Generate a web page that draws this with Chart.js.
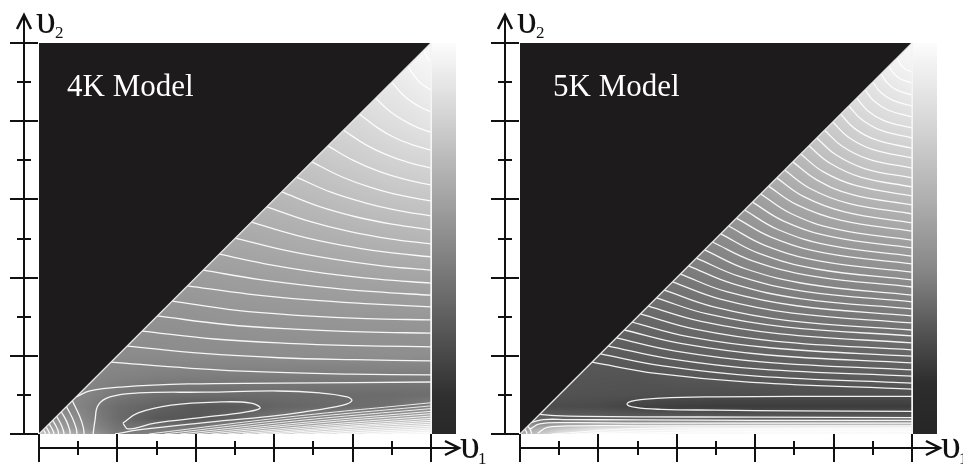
<!DOCTYPE html>
<html><head><meta charset="utf-8">
<script src="https://cdn.jsdelivr.net/npm/chart.js@4.4.1/dist/chart.umd.min.js"></script>
<style>
html,body{margin:0;padding:0;background:#fff;}
#wrap{position:relative;width:964px;height:464px;overflow:hidden;background:#fff;}
.pn{position:absolute;top:0;height:464px;}
</style></head><body>
<div id="wrap">
<div class="pn" style="left:0;width:492px"><canvas id="c1" width="492" height="464"></canvas></div>
<div class="pn" style="left:481px;width:482px"><canvas id="c2" width="482" height="464"></canvas></div>
</div>
<script>
// ---------- axes / ticks ----------
const majorTicks = [0, 2, 4, 6, 8, 10];
const minorTicks = [1, 3, 5, 7, 9];
// ---------- grey field nodes (value 0..255) ----------
const xNodes = [0, 1, 2, 3, 4, 5, 6, 7, 8, 9, 10];
const yNodes = [0, 0.15, 0.4, 0.7, 1, 1.5, 2, 3, 4, 5, 6, 7, 8, 9, 10];
const grid4K = [
  [200,170,122,130,158,175,205,225,235,245,250],
  [165,150,115,118,122,151,162,180,199,211,226],
  [150,140,108, 88, 86, 98,118,132,148,164,178],
  [135,132,108, 98, 88, 90,100,104,108,112,130],
  [138,135,120,110,108,108,108,108,108,108,110],
  [138,135,131,128,127,126,126,125,125,125,125],
  [139,139,139,139,140,140,141,141,141,142,142],
  [146,146,146,146,147,149,150,150,151,151,152],
  [156,156,156,156,156,158,159,161,163,164,165],
  [168,168,168,168,168,168,171,174,177,180,182],
  [182,182,182,182,182,182,182,186,191,195,198],
  [198,198,198,198,198,198,198,198,204,210,214],
  [215,215,215,215,215,215,215,215,215,222,229],
  [232,232,232,232,232,232,232,232,232,232,241],
  [250,250,250,250,250,250,250,250,250,250,250]
];
const grid5K = [
  [170,230,250,250,250,250,250,250,250,250,250],
  [150,195,225,232,238,242,245,245,245,245,245],
  [100, 95, 95, 95, 95, 95, 95, 95, 95, 95, 95],
  [ 78, 76, 74, 66, 62, 60, 60, 60, 60, 60, 60],
  [ 82, 82, 81, 80, 79, 78, 78, 78, 78, 78, 78],
  [ 86, 86, 85, 84, 88, 89, 91, 92, 92, 93, 93],
  [ 90, 90, 90, 92, 95, 97, 98, 99,100,101,102],
  [104,104,104,104,107,111,114,117,118,120,121],
  [120,120,120,120,120,125,130,134,137,139,142],
  [138,138,138,138,138,138,145,151,156,159,162],
  [158,158,158,158,158,158,158,168,175,180,184],
  [182,182,182,182,182,182,182,182,192,200,203],
  [205,205,205,205,205,205,205,205,205,216,222],
  [228,228,228,228,228,228,228,228,228,228,238],
  [250,250,250,250,250,250,250,250,250,250,250]
];
// ---------- colour bars (level on v2 scale -> grey) ----------
const cbLevels4K = [0, 1, 2, 3, 5, 7, 8.5, 10];
const cbGrey4K   = [40, 48, 72, 95, 140, 185, 220, 252];
const cbLevels5K = [0, 1.3, 2.5, 4.2, 6, 8, 10];
const cbGrey5K   = [38, 45, 80, 135, 175, 215, 252];

// ---------- 4K contour lines ----------
const upper4K = [
  [[9.82,9.82],[9.91,9.62],[10,9.51]],
  [[9.41,9.41],[9.56,9.18],[9.70,9.01],[9.85,8.89],[10,8.80]],
  [[9.00,9.00],[9.25,8.71],[9.50,8.50],[9.75,8.35],[10,8.24]],
  [[8.59,8.59],[8.94,8.26],[9.30,8.02],[9.65,7.84],[10,7.72]],
  [[8.18,8.18],[8.64,7.83],[9.09,7.57],[9.55,7.39],[10,7.26]],
  [[7.77,7.77],[8.33,7.40],[8.89,7.13],[9.44,6.94],[10,6.80]],
  [[7.37,7.37],[8.03,6.99],[8.69,6.71],[9.34,6.51],[10,6.37]],
  [[6.96,6.96],[7.72,6.58],[8.48,6.30],[9.24,6.10],[10,5.96]],
  [[6.57,6.57],[7.43,6.19],[8.29,5.92],[9.14,5.72],[10,5.58]],
  [[6.19,6.19],[7.14,5.82],[8.10,5.55],[9.05,5.36],[10,5.22]],
  [[5.81,5.81],[6.86,5.45],[7.91,5.18],[8.95,4.99],[10,4.86]],
  [[5.42,5.42],[6.57,5.08],[7.71,4.83],[8.86,4.65],[10,4.53]],
  [[5.01,5.01],[6.26,4.70],[7.51,4.47],[8.75,4.30],[10,4.19]],
  [[4.60,4.60],[5.95,4.32],[7.30,4.11],[8.65,3.96],[10,3.86]],
  [[4.19,4.19],[5.64,3.95],[7.10,3.77],[8.55,3.64],[10,3.55]],
  [[3.79,3.79],[5.34,3.58],[6.90,3.43],[8.45,3.33],[10,3.25]],
  [[3.40,3.40],[5.05,3.16],[6.70,3.03],[8.35,2.95],[10,2.92]],
  [[3.02,3.02],[4.77,2.80],[6.51,2.68],[8.26,2.61],[10,2.58]],
  [[2.63,2.63],[4.47,2.43],[6.32,2.32],[8.16,2.26],[10,2.23]],
  [[2.25,2.25],[4.19,2.06],[6.13,1.95],[8.06,1.90],[10,1.87]],
  [[1.84,1.84],[3.88,1.68],[5.92,1.58],[7.96,1.53],[10,1.51]]
];
const outer4K = [[0.95,0.95],[1.3,1.1],[2.09,1.20],[3.80,1.28],[6.10,1.30],[10,1.33]];
const bigLoop4K = [[1.38,0],[1.43,0.36],[1.51,0.74],[1.81,0.95],[2.53,1.05],[4.23,1.07],[6.10,1.10],[7.17,1.05],[7.86,0.95],[7.98,0.85],[7.76,0.74],[6.73,0.56],[5.89,0.45],[4.11,0.28],[2.58,0.11],[1.94,0]];
const innerLoop4K = [[2.14,0.28],[2.53,0.54],[3.37,0.74],[4.64,0.82],[5.41,0.79],[5.64,0.66],[5.26,0.56],[4.23,0.43],[2.96,0.28],[2.27,0.13],[2.14,0.28]];
const fan4K = [
  [[0.85,0.85],[1.03,0.47],[1.13,0.17],[1.15,0]],
  [[0.70,0.70],[0.86,0.39],[0.95,0.14],[0.97,0]],
  [[0.57,0.57],[0.71,0.31],[0.78,0.11],[0.80,0]],
  [[0.45,0.45],[0.56,0.25],[0.62,0.09],[0.64,0]],
  [[0.35,0.35],[0.44,0.19],[0.49,0.07],[0.50,0]],
  [[0.26,0.26],[0.33,0.14],[0.37,0.05],[0.38,0]],
  [[0.18,0.18],[0.23,0.10],[0.27,0]],
  [[0.11,0.11],[0.15,0.05],[0.17,0]]
];
const dense4K = [
  [[2.8,0],[6.4,0.44],[10,0.80]],
  [[3.2,0],[6.6,0.40],[10,0.72]],
  [[3.6,0],[6.8,0.36],[10,0.65]],
  [[4.0,0],[7.0,0.32],[10,0.58]],
  [[4.4,0],[7.2,0.29],[10,0.52]],
  [[4.8,0],[7.4,0.25],[10,0.46]],
  [[5.2,0],[7.6,0.22],[10,0.40]],
  [[5.6,0],[7.8,0.19],[10,0.35]],
  [[6.0,0],[8.0,0.17],[10,0.30]],
  [[6.5,0],[8.25,0.14],[10,0.25]],
  [[7.0,0],[8.5,0.11],[10,0.20]],
  [[7.6,0],[8.8,0.08],[10,0.15]],
  [[8.3,0],[9.15,0.055],[10,0.10]],
  [[9.0,0],[9.5,0.028],[10,0.05]]
];
// ---------- 5K contour lines ----------
const upper5K = [
  [[9.62,9.62],[9.70,9.47],[9.81,9.35],[10,9.26]],
  [[9.41,9.41],[9.53,9.23],[9.71,9.08],[10,8.98]],
  [[9.21,9.21],[9.37,8.98],[9.61,8.80],[10,8.67]],
  [[9.00,9.00],[9.20,8.74],[9.50,8.54],[10,8.39]],
  [[8.80,8.80],[9.04,8.51],[9.40,8.28],[10,8.11]],
  [[8.59,8.59],[8.87,8.27],[9.30,8.01],[10,7.83]],
  [[8.39,8.39],[8.71,8.05],[9.20,7.77],[10,7.57]],
  [[8.18,8.18],[8.54,7.81],[9.09,7.52],[10,7.31]],
  [[7.98,7.98],[8.38,7.59],[8.99,7.28],[10,7.06]],
  [[7.77,7.77],[8.22,7.36],[8.89,7.03],[10,6.80]],
  [[7.57,7.57],[8.06,7.14],[8.79,6.79],[10,6.55]],
  [[7.37,7.37],[7.90,6.93],[8.69,6.57],[10,6.32]],
  [[7.16,7.16],[7.73,6.71],[8.58,6.35],[10,6.09]],
  [[6.96,6.96],[7.57,6.50],[8.48,6.12],[10,5.86]],
  [[6.75,6.75],[7.40,6.28],[8.38,5.90],[10,5.63]],
  [[6.55,6.55],[7.24,6.07],[8.28,5.68],[10,5.40]],
  [[6.34,6.34],[7.07,5.86],[8.17,5.47],[10,5.19]],
  [[6.14,6.14],[6.91,5.64],[8.07,5.24],[10,4.96]],
  [[5.93,5.93],[6.74,5.44],[7.97,5.04],[10,4.76]],
  [[5.73,5.73],[6.58,5.23],[7.87,4.83],[10,4.55]],
  [[5.52,5.52],[6.42,5.03],[7.76,4.63],[10,4.35]],
  [[5.32,5.32],[6.26,4.82],[7.66,4.42],[10,4.14]],
  [[5.12,5.12],[6.10,4.62],[7.56,4.22],[10,3.94]],
  [[4.91,4.91],[5.93,4.43],[7.46,4.04],[10,3.76]],
  [[4.71,4.71],[5.77,4.22],[7.36,3.83],[10,3.55]],
  [[4.50,4.50],[5.60,4.03],[7.25,3.65],[10,3.38]],
  [[4.30,4.30],[5.44,3.84],[7.15,3.46],[10,3.20]],
  [[4.09,4.09],[5.27,3.64],[7.05,3.28],[10,3.02]],
  [[3.89,3.89],[5.11,3.45],[6.95,3.09],[10,2.84]],
  [[3.68,3.68],[4.94,3.25],[6.84,2.90],[10,2.66]],
  [[3.48,3.48],[4.78,3.07],[6.74,2.74],[10,2.51]],
  [[3.27,3.27],[4.62,2.88],[6.64,2.56],[10,2.33]],
  [[3.07,3.07],[4.46,2.68],[6.54,2.37],[10,2.15]],
  [[2.86,2.86],[4.29,2.49],[6.43,2.20],[10,1.99]],
  [[2.66,2.66],[4.13,2.31],[6.33,2.02],[10,1.82]],
  [[2.46,2.46],[3.97,2.12],[6.23,1.84],[10,1.64]],
  [[2.25,2.25],[3.80,1.93],[6.13,1.66],[10,1.48]],
  [[2.05,2.05],[3.64,1.74],[6.03,1.48],[10,1.30]],
  [[1.84,1.84],[3.47,1.55],[5.92,1.32],[10,1.15]]
];
const loop5K = [[10,0.96],[7,0.96],[5,0.95],[3.6,0.92],[2.95,0.86],[2.73,0.77],[2.95,0.68],[3.6,0.63],[5,0.61],[7,0.59],[10,0.58]];
const low5K = [
  [[0.5,0.5],[0.9,0.47],[1.6,0.45],[3,0.44],[6,0.43],[10,0.42]],
  [[0.3,0.3],[0.6,0.37],[1.2,0.37],[3,0.36],[6,0.35],[10,0.35]],
  [[0.25,0.12],[0.5,0.26],[1.2,0.29],[3,0.28],[6,0.28],[10,0.28]],
  [[0.45,0.02],[0.7,0.17],[1.5,0.21],[3,0.21],[6,0.21],[10,0.21]]
];
const fan5K = [
  [[0.2,0.2],[0.27,0.1],[0.3,0]],
  [[0.12,0.12],[0.16,0.06],[0.18,0]]
];
const dense5K = [
  [[0.8,0],[3,0.14],[6,0.15],[10,0.16]],
  [[1.3,0],[3.5,0.09],[6.5,0.11],[10,0.11]],
  [[2.0,0],[4.5,0.05],[7.5,0.06],[10,0.06]]
];

// ---------- helpers ----------
function greyAt(grid, x, y) {
  let i = 0; while (i < xNodes.length - 2 && x > xNodes[i + 1]) i++;
  let j = 0; while (j < yNodes.length - 2 && y > yNodes[j + 1]) j++;
  let tx = (x - xNodes[i]) / (xNodes[i + 1] - xNodes[i]);
  let ty = (y - yNodes[j]) / (yNodes[j + 1] - yNodes[j]);
  tx = Math.max(0, Math.min(1, tx)); ty = Math.max(0, Math.min(1, ty));
  const a = grid[j][i] * (1 - tx) + grid[j][i + 1] * tx;
  const b = grid[j + 1][i] * (1 - tx) + grid[j + 1][i + 1] * tx;
  return a * (1 - ty) + b * ty;
}
const pts = arr => arr.map(p => ({x: p[0], y: p[1]}));
function lineDS(arr, w, col) {
  return {data: pts(arr), showLine: true, fill: false, borderColor: col, borderWidth: w,
          pointRadius: 0, tension: 0.4};
}

function makePanel(canvasId, P) {
  const fieldPlugin = {
    id: 'field' + canvasId,
    beforeDatasetsDraw(chart) {
      const {ctx, chartArea: a, scales: {x, y}} = chart;
      const w = Math.round(a.right - a.left), h = Math.round(a.bottom - a.top);
      const img = ctx.createImageData(w, h);
      for (let py = 0; py < h; py++) {
        const vy = y.getValueForPixel(a.top + py + 0.5);
        for (let px = 0; px < w; px++) {
          const vx = x.getValueForPixel(a.left + px + 0.5);
          const g = greyAt(P.grid, vx, vy);
          const k = (py * w + px) * 4;
          img.data[k] = img.data[k + 1] = img.data[k + 2] = g; img.data[k + 3] = 255;
        }
      }
      const off = document.createElement('canvas'); off.width = w; off.height = h;
      off.getContext('2d').putImageData(img, 0, 0);
      ctx.drawImage(off, a.left, a.top);
    }
  };
  const decoPlugin = {
    id: 'deco' + canvasId,
    afterDatasetsDraw(chart) {
      const {ctx, chartArea: a, scales: {x, y}} = chart;
      ctx.save();
      // right edge light line
      ctx.strokeStyle = '#f2f2f2'; ctx.lineWidth = 1.5;
      ctx.beginPath(); ctx.moveTo(x.getPixelForValue(10), y.getPixelForValue(0));
      ctx.lineTo(x.getPixelForValue(10), y.getPixelForValue(10)); ctx.stroke();
      // colour bar
      const yb = y.getPixelForValue(0), yt = y.getPixelForValue(10);
      const grad = ctx.createLinearGradient(0, yb, 0, yt);
      P.cbLevels.forEach((lv, i) => {
        const g = P.cbGrey[i];
        grad.addColorStop((y.getPixelForValue(lv) - yb) / (yt - yb), `rgb(${g},${g},${g})`);
      });
      ctx.fillStyle = grad;
      ctx.fillRect(a.right + 1, yt, 24, yb - yt);
      // axes
      ctx.strokeStyle = '#111'; ctx.lineWidth = 2; ctx.lineCap = 'butt';
      const ax = a.left - 15, ay = a.bottom + 14;
      ctx.beginPath(); ctx.moveTo(ax, y.getPixelForValue(0) + 1); ctx.lineTo(ax, 15); ctx.stroke();
      ctx.beginPath(); ctx.moveTo(ax - 7, 29); ctx.lineTo(ax, 15); ctx.lineTo(ax + 7, 29); ctx.lineWidth = 2.5; ctx.stroke();
      ctx.lineWidth = 2;
      const tip = a.right + 28;
      ctx.beginPath(); ctx.moveTo(x.getPixelForValue(0) - 1, ay); ctx.lineTo(tip, ay); ctx.stroke();
      ctx.beginPath(); ctx.moveTo(tip - 14, ay - 7); ctx.lineTo(tip, ay); ctx.lineTo(tip - 14, ay + 7); ctx.lineWidth = 2.5; ctx.stroke();
      ctx.lineWidth = 2;
      majorTicks.forEach(v => {
        const py = Math.round(y.getPixelForValue(v));
        ctx.beginPath(); ctx.moveTo(ax - 14, py); ctx.lineTo(ax + 14, py); ctx.stroke();
        const px = Math.round(x.getPixelForValue(v));
        ctx.beginPath(); ctx.moveTo(px, ay - 14); ctx.lineTo(px, ay + 14); ctx.stroke();
      });
      minorTicks.forEach(v => {
        const py = Math.round(y.getPixelForValue(v));
        ctx.beginPath(); ctx.moveTo(ax - 7, py); ctx.lineTo(ax + 7, py); ctx.stroke();
        const px = Math.round(x.getPixelForValue(v));
        ctx.beginPath(); ctx.moveTo(px, ay - 7); ctx.lineTo(px, ay + 7); ctx.stroke();
      });
      // axis labels
      ctx.fillStyle = '#111';
      ctx.textBaseline = 'alphabetic';
      ctx.font = '40px "Liberation Serif", "DejaVu Serif", serif';
      ctx.fillText('υ', a.left - 3, 33);
      ctx.fillText('υ', a.right + 29, 458);
      ctx.font = '17px "Liberation Serif", "DejaVu Serif", serif';
      ctx.fillText('2', a.left + 16, 38);
      ctx.fillText('1', a.right + 47, 464);
      // title
      ctx.fillStyle = '#ffffff';
      ctx.font = '31px "Liberation Serif", "DejaVu Serif", serif';
      ctx.fillText(P.title, P.titleX, 96);
      ctx.restore();
    }
  };
  const white = 'rgba(255,255,255,0.92)';
  const datasets = [
    // black upper triangle, bordered by the light diagonal
    {data: pts([[0,0],[10,10]]), showLine: true, fill: 'end', backgroundColor: '#1d1b1c',
     borderColor: '#e6e6e6', borderWidth: 1.3, pointRadius: 0, tension: 0}
  ];
  P.lines.forEach(l => datasets.push(lineDS(l, 1.3, white)));
  P.thin.forEach(l => datasets.push(lineDS(l, 1, 'rgba(255,255,255,0.85)')));
  const cw = document.getElementById(canvasId).width;
  return new Chart(document.getElementById(canvasId), {
    type: 'scatter',
    data: {datasets},
    options: {
      responsive: false, animation: false, events: [],
      layout: {padding: {left: 39, right: cw - 431, top: 43, bottom: 30}},
      scales: {
        x: {type: 'linear', min: 0, max: 10, display: false},
        y: {type: 'linear', min: 0, max: 10, display: false}
      },
      plugins: {legend: {display: false}, tooltip: {enabled: false}}
    },
    plugins: [fieldPlugin, decoPlugin]
  });
}

makePanel('c1', {
  grid: grid4K, cbLevels: cbLevels4K, cbGrey: cbGrey4K, title: '4K Model', titleX: 67,
  lines: [...upper4K, outer4K, bigLoop4K, innerLoop4K, ...fan4K],
  thin: dense4K
});
makePanel('c2', {
  grid: grid5K, cbLevels: cbLevels5K, cbGrey: cbGrey5K, title: '5K Model', titleX: 72,
  lines: [...upper5K, loop5K, ...low5K, ...fan5K],
  thin: dense5K
});
</script>
</body></html>
